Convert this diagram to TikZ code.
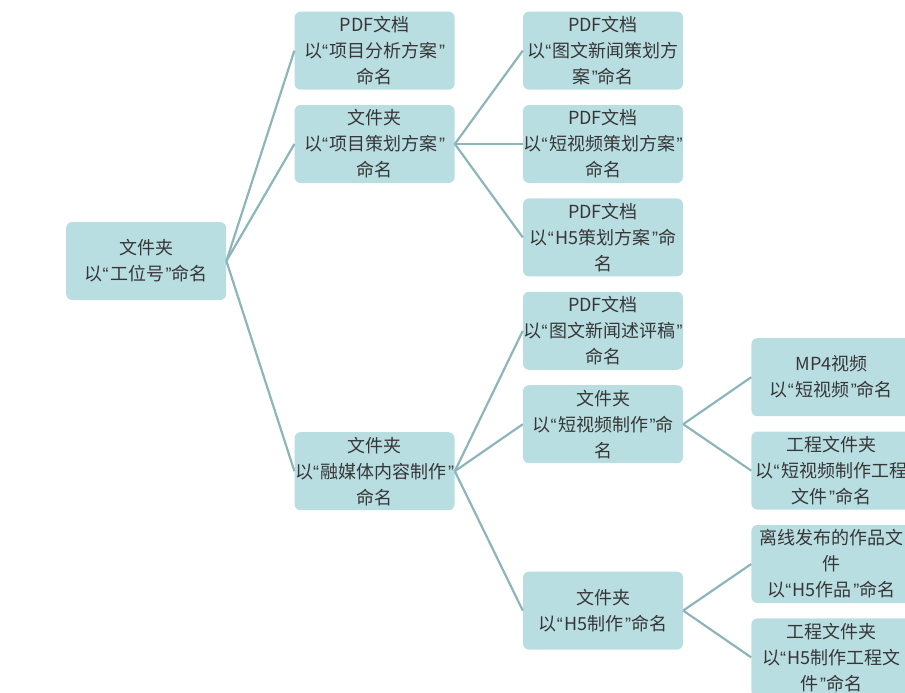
\documentclass[tikz,border=0pt]{standalone}
\usepackage{fontspec}
\usepackage{newunicodechar}
\setmainfont{Noto Sans CJK SC}
\newfontfamily\quotefont{Liberation Sans}
\newunicodechar{“}{{\quotefont\symbol{"201C}}\hspace{1.5pt}}
\newunicodechar{”}{\hspace{1.5pt}{\quotefont\symbol{"201D}}}
\usetikzlibrary{positioning}
\definecolor{boxfill}{HTML}{B9DEE2}
\definecolor{linkcol}{HTML}{8DB6BB}
\definecolor{txtcol}{HTML}{363636}

\begin{document}
\begin{tikzpicture}[x=1pt, y=1pt, node distance={15pt and 68pt},
    main/.style = {fill=boxfill, rounded corners=6pt, minimum width=160pt, minimum height=78pt,
                   inner sep=0pt, align=center, text=txtcol, font=\fontsize{18}{26}\selectfont},
    link/.style = {draw=linkcol, line width=2.2pt}]
            \useasboundingbox (0,0) rectangle (905,-693);
            \clip (0,0) rectangle (905,-693);
            \node[main] (b2) at (603,-144) {PDF文档\\以“短视频策划方案”\\命名};
            \node[main] (b1) [above=of b2] {PDF文档\\以“图文新闻策划方\\案”命名};
            \node[main] (b3) [below=of b2] {PDF文档\\以“H5策划方案”命\\名};
            \node[main] (c1) [below=of b3] {PDF文档\\以“图文新闻述评稿”\\命名};
            \node[main] (c2) [below=of c1] {文件夹\\以“短视频制作”命\\名};
            \node[main] (c3) [below=108pt of c2] {文件夹\\以“H5制作”命名};
            \node[main] (b) [left=of b2] {文件夹\\以“项目策划方案”\\命名};
            \node[main] (a) [above=of b] {PDF文档\\以“项目分析方案”\\命名};
            \node[main] (c) [left=of c2, yshift=-47pt] {文件夹\\以“融媒体内容制作”\\命名};
            \node[main] (root) [left=of b, yshift=-117pt] {文件夹\\以“工位号”命名};
            \node[main] (c21) [right=of c2, yshift=47pt] {MP4视频\\以“短视频”命名};
            \node[main] (c22) [below=of c21] {工程文件夹\\以“短视频制作工程\\文件”命名};
            \node[main] (c31) [below=of c22] {离线发布的作品文\\件\\以“H5作品”命名};
            \node[main] (c32) [below=of c31] {工程文件夹\\以“H5制作工程文\\件”命名};
            \draw[link] (root.east) -- (a.west);
            \draw[link] (root.east) -- (b.west);
            \draw[link] (root.east) -- (c.west);
            \draw[link] (b.east) -- (b1.west);
            \draw[link] (b.east) -- (b2.west);
            \draw[link] (b.east) -- (b3.west);
            \draw[link] (c.east) -- (c1.west);
            \draw[link] (c.east) -- (c2.west);
            \draw[link] (c.east) -- (c3.west);
            \draw[link] (c2.east) -- (c21.west);
            \draw[link] (c2.east) -- (c22.west);
            \draw[link] (c3.east) -- (c31.west);
            \draw[link] (c3.east) -- (c32.west);
        \end{tikzpicture}
\end{document}
